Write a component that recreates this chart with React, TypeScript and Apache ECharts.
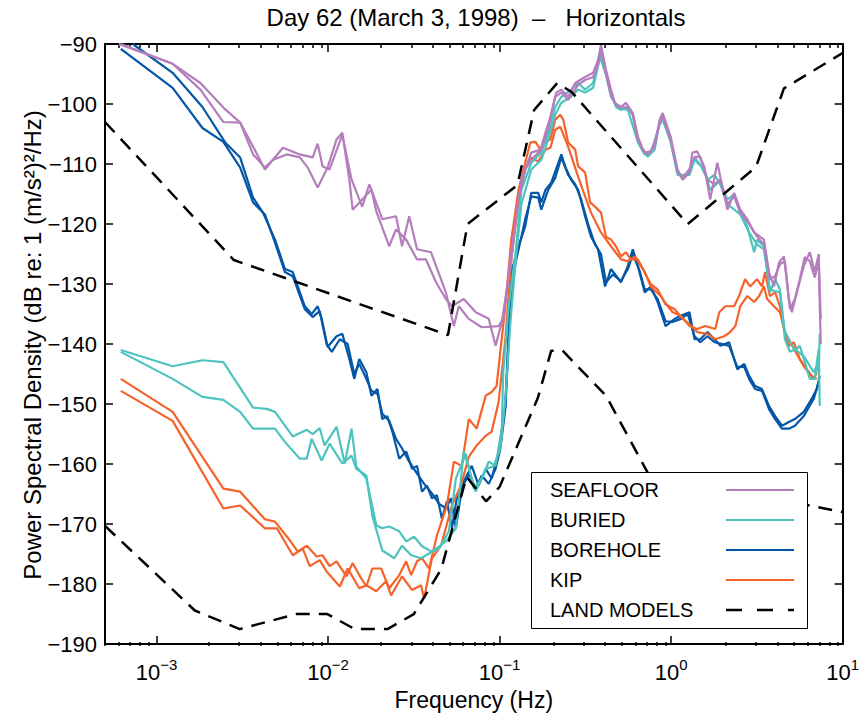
import React, { useEffect, useRef } from "react";
import * as echarts from "echarts";

// [frequency (Hz), PSD (dB)]
const seafloorA: [number, number][] = [
  [6.02e-4, -90], [1.24e-3, -93.3], [1.8e-3, -96.5], [2.45e-3, -100.6], [3.07e-3, -103.1], [3.65e-3, -107.1],
  [4.28e-3, -110.9], [5.45e-3, -107.3], [6.84e-3, -108.4], [8.13e-3, -108.9], [8.69e-3, -106.6], [9.29e-3, -110.4],
  [0.0102, -110.9], [0.0121, -105.1], [0.0137, -112.6], [0.0158, -117.1], [0.0174, -113.4], [0.0207, -119.2],
  [0.0249, -118.7], [0.027, -123.7], [0.0297, -118.7], [0.033, -124.2], [0.0398, -124.7], [0.0486, -131.4],
  [0.0541, -137], [0.0578, -133.7], [0.0661, -135.8], [0.0787, -137.2], [0.0987, -137], [0.105, -135.8],
  [0.117, -124.7], [0.134, -112.6], [0.153, -108.1], [0.173, -107.6], [0.185, -104.8], [0.198, -102.1],
  [0.214, -98.1], [0.229, -97.6], [0.251, -98.8], [0.276, -96.5], [0.315, -95.5], [0.351, -94.8], [0.375, -92.7],
  [0.39, -90.2], [0.417, -94.3], [0.446, -97.6], [0.47, -99.8], [0.51, -100.5], [0.545, -99.8], [0.598, -101.5],
  [0.64, -105.4], [0.684, -107.6], [0.731, -108.4], [0.802, -107.1], [0.858, -102.6], [0.893, -101.5],
  [0.993, -105.4], [1.09, -110.9], [1.17, -112.6], [1.28, -111.4], [1.33, -108.1], [1.42, -107.9], [1.56, -110.4],
  [1.69, -115.9], [1.86, -109.8], [1.99, -113.8], [2.13, -117.6], [2.33, -114.8], [2.53, -117.6], [2.78, -119.2],
  [3.05, -121.4], [3.48, -122.6], [3.72, -128], [3.98, -130.4], [4.26, -126.4], [4.55, -125.4], [4.86, -132.5],
  [5.06, -134.7], [5.41, -131.4], [5.94, -127], [6.44, -124.7], [6.88, -128], [7.26, -125], [7.36, -133.7],
  [7.46, -140],
];
const seafloorB: [number, number][] = [
  [6.18e-4, -90], [1.24e-3, -93.3], [1.8e-3, -97.6], [2.45e-3, -103], [3.07e-3, -103.1], [3.65e-3, -108.4],
  [4.28e-3, -110.6], [4.77e-3, -109.3], [5.75e-3, -108.4], [6.84e-3, -108.9], [7.61e-3, -110.6], [8.69e-3, -113.9],
  [9.93e-3, -110.6], [0.0112, -105.9], [0.0121, -104.8], [0.0133, -112.6], [0.0139, -117.6], [0.0158, -115.9],
  [0.0179, -114.3], [0.0191, -117.9], [0.0227, -123.7], [0.0249, -120.9], [0.0285, -122.6], [0.033, -125.9],
  [0.0372, -125.9], [0.0426, -129.7], [0.0486, -132.5], [0.0527, -133.7], [0.0618, -132.5], [0.0726, -134.7],
  [0.0864, -135.8], [0.0948, -140.3], [0.103, -136.3], [0.108, -132.5], [0.117, -125.9], [0.129, -115.9],
  [0.141, -110.9], [0.153, -109.3], [0.175, -107.6], [0.192, -104], [0.211, -98.8], [0.229, -98.1],
  [0.251, -99.3], [0.287, -96.8], [0.315, -96], [0.351, -95.5], [0.375, -93.5], [0.39, -90.5], [0.417, -95.1],
  [0.446, -98.5], [0.477, -100.1], [0.51, -100.6], [0.56, -100.5], [0.598, -101.8], [0.64, -105.9],
  [0.702, -108.1], [0.761, -107.9], [0.802, -106.4], [0.858, -103.1], [0.893, -102.1], [0.993, -105.9],
  [1.09, -111.3], [1.17, -112.3], [1.28, -110.8], [1.37, -108.8], [1.48, -108.8], [1.63, -112.6], [1.79, -113.4],
  [1.94, -112.6], [2.13, -116.7], [2.33, -115.4], [2.53, -118.1], [2.85, -120], [3.17, -122.1], [3.48, -123.4],
  [3.77, -129.2], [4.04, -128.7], [4.31, -126.7], [4.61, -126.2], [4.93, -134.2], [5.27, -132.5], [5.63, -129.2],
  [6.02, -125.5], [6.44, -126.2], [6.88, -128.9], [7.26, -126.2], [7.46, -135.8],
];
const buriedA: [number, number][] = [
  [6.18e-4, -141], [1.24e-3, -143.7], [1.85e-3, -142.7], [2.45e-3, -143], [3.65e-3, -150.6], [4.4e-3, -150.8],
  [4.9e-3, -151.3], [6.22e-3, -155.4], [7.51e-3, -154.3], [8.13e-3, -155], [8.93e-3, -154], [9.54e-3, -156.9],
  [0.0112, -153.8], [0.0125, -159.9], [0.0137, -154.1], [0.0146, -160.4], [0.0167, -162.4], [0.0191, -170.2],
  [0.0207, -170.7], [0.0227, -170.4], [0.026, -171.2], [0.0285, -172.9], [0.0317, -172.1], [0.0353, -173.7],
  [0.0403, -174.6], [0.0443, -174.1], [0.0506, -171.2], [0.0556, -162.4], [0.0635, -158.3], [0.0707, -164.1],
  [0.0787, -162.4], [0.0864, -159.6], [0.0948, -160.3], [0.103, -154.1], [0.105, -144.7], [0.113, -133.7],
  [0.124, -124.7], [0.134, -114.3], [0.153, -109.8], [0.175, -108.1], [0.192, -104.8], [0.211, -100.5],
  [0.229, -98.8], [0.261, -97.6], [0.287, -96.5], [0.315, -97.6], [0.351, -96.5], [0.385, -91.5], [0.417, -94.7],
  [0.446, -98.1], [0.477, -100.5], [0.51, -101], [0.56, -100.6], [0.598, -101.8], [0.64, -105.9], [0.684, -107.9],
  [0.731, -108.8], [0.802, -107.6], [0.858, -103], [0.893, -101.8], [0.993, -105.9], [1.09, -111.3],
  [1.17, -112.6], [1.28, -111.3], [1.37, -108.9], [1.48, -110.1], [1.63, -112.6], [1.79, -111.8], [1.94, -113.4],
  [2.13, -115.9], [2.33, -115.1], [2.53, -118.1], [2.78, -120.4], [3.05, -124.7], [3.17, -122.6], [3.48, -123.7],
  [3.77, -131.4], [4.04, -129.2], [4.31, -130.9], [4.61, -139.2], [4.93, -141.3], [5.41, -140.8], [5.63, -140.3],
  [6.02, -143], [6.44, -145.8], [6.88, -145.8], [7.26, -140.8], [7.36, -150.3],
];
const buriedB: [number, number][] = [
  [6.18e-4, -141.3], [1.24e-3, -145.8], [1.85e-3, -148.8], [2.45e-3, -149.3], [3.07e-3, -151.3], [3.65e-3, -154.1],
  [4.9e-3, -154.1], [5.6e-3, -156.3], [6.84e-3, -159.1], [7.51e-3, -159.1], [8.02e-3, -155.8], [9.17e-3, -159.4],
  [0.0102, -156.6], [0.0121, -159.9], [0.0137, -158.6], [0.0146, -160.8], [0.0167, -161.9], [0.0181, -168.6],
  [0.0207, -174.4], [0.0243, -175.7], [0.027, -173.6], [0.0305, -175.2], [0.0348, -175.7], [0.0388, -174.9],
  [0.0426, -174.1], [0.0486, -172.9], [0.0556, -170.7], [0.0618, -157.9], [0.0726, -164.6], [0.083, -160.8],
  [0.0923, -160.4], [0.101, -157.4], [0.108, -149.1], [0.116, -135.8], [0.124, -126.2], [0.134, -116.7],
  [0.153, -110.9], [0.175, -109.3], [0.192, -105.9], [0.211, -101.8], [0.229, -99.8], [0.261, -98.8],
  [0.287, -97.6], [0.315, -98.1], [0.351, -97.3], [0.385, -92.2], [0.417, -95.1], [0.446, -98.8], [0.49, -100.6],
  [0.56, -101], [0.64, -106.4], [0.702, -108.4], [0.761, -108.1], [0.858, -103.5], [0.893, -102.6],
  [0.993, -106.3], [1.09, -111.8], [1.28, -111.8], [1.37, -109.3], [1.56, -110.9], [1.69, -114.3], [1.91, -112.9],
  [2.13, -116.7], [2.53, -118.4], [2.85, -121.4], [3.17, -123.4], [3.48, -124.2], [3.77, -130.9], [4.31, -131.4],
  [4.61, -138], [5.2, -140.8], [5.94, -142], [6.79, -144.7], [7.07, -143.7], [7.26, -144.7], [7.36, -138.3],
];
const boreholeA: [number, number][] = [
  [7.26e-4, -90], [1.24e-3, -94.8], [1.85e-3, -100.5], [2.51e-3, -106.4], [3.07e-3, -108.9], [3.65e-3, -115.6],
  [4.17e-3, -118.1], [4.9e-3, -122.6], [5.6e-3, -127.5], [6.22e-3, -128], [7.31e-3, -133.7], [8.02e-3, -135],
  [8.69e-3, -133.7], [9.17e-3, -135.8], [9.93e-3, -140.5], [0.0112, -138.7], [0.0121, -138.3], [0.0133, -142.5],
  [0.0142, -145.8], [0.0152, -142.5], [0.0167, -144.7], [0.0179, -148.6], [0.0194, -147.5], [0.0207, -152.5],
  [0.0221, -152], [0.0237, -154.6], [0.026, -159.1], [0.0285, -157.9], [0.0309, -160.8], [0.033, -160.3],
  [0.0353, -164.6], [0.0377, -163.6], [0.0403, -165.7], [0.0431, -165.2], [0.0461, -169.1], [0.0493, -166.2],
  [0.0527, -170.7], [0.0563, -165.7], [0.0618, -162.9], [0.0688, -160.3], [0.0755, -163.6], [0.083, -160.8],
  [0.0899, -162.4], [0.0987, -157.9], [0.108, -150.3], [0.117, -128], [0.129, -123.7], [0.141, -120.4],
  [0.153, -114.8], [0.168, -114.8], [0.175, -116.4], [0.185, -114.3], [0.2, -113.1], [0.22, -109.8],
  [0.229, -108.4], [0.241, -110.4], [0.261, -112.6], [0.287, -114.3], [0.315, -118.7], [0.341, -122.1],
  [0.375, -124.2], [0.412, -130.4], [0.446, -127.5], [0.51, -129.7], [0.56, -127], [0.598, -124.2], [0.64, -127],
  [0.702, -131.4], [0.761, -130.4], [0.835, -133], [0.929, -137], [1.05, -135.8], [1.14, -135.3], [1.28, -134.7],
  [1.37, -139.2], [1.48, -139.2], [1.63, -138], [1.79, -139.2], [1.94, -140.3], [2.18, -139.7], [2.43, -144.2],
  [2.67, -143.3], [2.85, -145.3], [3.09, -147], [3.39, -147.5], [3.72, -150.3], [4.04, -152], [4.43, -153.6],
  [4.86, -153], [5.27, -152.5], [5.94, -151.3], [6.61, -149.1], [7.07, -147.5], [7.36, -145.3],
];
const boreholeB: [number, number][] = [
  [6.18e-4, -90.8], [1.24e-3, -97.3], [1.85e-3, -104], [2.45e-3, -106.3], [3.07e-3, -110.6], [3.65e-3, -116.4],
  [4.28e-3, -118.4], [4.9e-3, -123.1], [5.6e-3, -128], [6.22e-3, -128.7], [7.31e-3, -134.2], [8.13e-3, -135.5],
  [8.93e-3, -134.5], [9.8e-3, -140], [0.0105, -141.3], [0.0117, -139.2], [0.013, -140], [0.0142, -145],
  [0.0152, -143.3], [0.0167, -145.8], [0.0179, -147.8], [0.0194, -148.3], [0.0207, -151.6], [0.0227, -152.8],
  [0.0249, -155.8], [0.027, -157.4], [0.0297, -159.6], [0.033, -161.6], [0.0363, -163.3], [0.0403, -164.9],
  [0.0443, -166.6], [0.0486, -167.4], [0.052, -165.7], [0.0556, -170.7], [0.0602, -164.1], [0.0661, -161.6],
  [0.0726, -164.1], [0.0787, -161.9], [0.0864, -163.3], [0.0948, -160.8], [0.101, -157.4], [0.108, -150.8],
  [0.116, -132.5], [0.124, -126.4], [0.134, -122.1], [0.141, -119.2], [0.153, -115.4], [0.168, -115.6],
  [0.175, -117.6], [0.192, -114.3], [0.211, -112.3], [0.229, -108.9], [0.251, -111.8], [0.276, -113.4],
  [0.299, -115.9], [0.328, -120], [0.36, -123.4], [0.39, -125], [0.417, -129.7], [0.458, -128.4], [0.51, -129.5],
  [0.56, -127.5], [0.598, -125], [0.657, -127.9], [0.702, -130.9], [0.761, -130.9], [0.835, -132.5],
  [0.929, -136.2], [1.02, -136.3], [1.14, -135.8], [1.25, -135], [1.37, -138.7], [1.48, -139.7], [1.63, -138.7],
  [1.79, -139.7], [1.99, -140], [2.18, -140.3], [2.43, -143.8], [2.67, -143.8], [2.85, -145.8], [3.09, -147.5],
  [3.39, -147.8], [3.72, -150.8], [4.04, -152.5], [4.43, -154.1], [4.86, -154.1], [5.27, -153.6], [5.94, -152],
  [6.79, -149.1], [7.26, -146.3],
];
const kipA: [number, number][] = [
  [6.18e-4, -145.8], [1.24e-3, -151.3], [2.45e-3, -164.1], [3.07e-3, -164.6], [4.28e-3, -169.2], [4.9e-3, -169.6],
  [5.98e-3, -172.7], [6.66e-3, -174.6], [7.51e-3, -173.6], [8.58e-3, -175.4], [9.29e-3, -175.2], [0.0102, -177],
  [0.0112, -176.2], [0.0128, -178.7], [0.0139, -176.5], [0.0152, -178.5], [0.0167, -180.4], [0.0181, -177.4],
  [0.0204, -177.4], [0.0227, -180.7], [0.026, -178.5], [0.0285, -176.2], [0.0305, -178.5], [0.033, -176.2],
  [0.0353, -175.7], [0.0388, -177.4], [0.0431, -171.9], [0.0493, -166.9], [0.0541, -159.6], [0.0602, -160.3],
  [0.0661, -152.5], [0.0735, -154.1], [0.083, -148.6], [0.0899, -148], [0.096, -147], [0.108, -133.7],
  [0.117, -122.6], [0.129, -114.3], [0.141, -109.8], [0.151, -106.4], [0.162, -106.3], [0.173, -107.6],
  [0.185, -106.3], [0.198, -105.9], [0.211, -102.6], [0.226, -101.8], [0.235, -102.6], [0.251, -106.4],
  [0.276, -107.6], [0.287, -110.4], [0.315, -111.4], [0.337, -116.4], [0.36, -117.1], [0.39, -118.1],
  [0.417, -122.1], [0.446, -122.6], [0.477, -123.7], [0.51, -125.4], [0.545, -124.7], [0.582, -125.9],
  [0.64, -125.9], [0.702, -128], [0.761, -130.4], [0.869, -132], [0.917, -133], [1.02, -134.7], [1.14, -135.3],
  [1.28, -137], [1.42, -137.5], [1.58, -137], [1.81, -137.5], [1.91, -134.7], [2.07, -133.7], [2.33, -133.7],
  [2.49, -132], [2.7, -129.2], [2.89, -130.4], [3.17, -129.2], [3.39, -130.4], [3.53, -128], [3.77, -132],
  [4.04, -131.4], [4.31, -133.7], [4.55, -137.5], [4.86, -140.3], [5.2, -139.7], [5.63, -142.5], [6.18, -144.2],
  [6.61, -145.3], [7.07, -145.8],
];
const kipB: [number, number][] = [
  [6.18e-4, -147.8], [1.24e-3, -152.8], [2.45e-3, -167.4], [3.07e-3, -166.9], [4.28e-3, -170.7], [5.03e-3, -170.7],
  [6.22e-3, -175.2], [7.12e-3, -174.1], [7.81e-3, -177], [8.93e-3, -176], [9.8e-3, -177.9], [0.0117, -180.4],
  [0.013, -177.4], [0.0152, -180.7], [0.0167, -180.2], [0.0191, -181.2], [0.0218, -179.5], [0.0233, -181.9],
  [0.027, -178.7], [0.0309, -181], [0.0348, -180.2], [0.0363, -182.4], [0.0403, -175.7], [0.0455, -173.6],
  [0.0527, -166.9], [0.0594, -163.6], [0.0661, -158.8], [0.0735, -156.9], [0.083, -155.3], [0.0899, -154.6],
  [0.0987, -149.6], [0.108, -139.2], [0.117, -125.9], [0.129, -115.9], [0.141, -110.9], [0.153, -108.9],
  [0.168, -109.6], [0.185, -107.6], [0.198, -107.3], [0.211, -104.3], [0.226, -103.8], [0.251, -107.1],
  [0.287, -112.1], [0.315, -115.4], [0.341, -118.1], [0.39, -121.4], [0.446, -123.7], [0.51, -125.9],
  [0.56, -126.2], [0.614, -125.4], [0.684, -127.5], [0.761, -130], [0.835, -130.9], [0.929, -133.4],
  [1.05, -134.2], [1.17, -135.8], [1.28, -136.7], [1.42, -138], [1.63, -138.3], [1.81, -139.2], [2.04, -138.7],
  [2.21, -138], [2.37, -137], [2.53, -133.7], [2.78, -132], [3.05, -133], [3.26, -132], [3.48, -130.4],
  [3.63, -132.5], [3.98, -133.7], [4.31, -134.7], [4.61, -138], [5.2, -140.8], [5.94, -143.7], [6.79, -145.8],
  [7.07, -144.7],
];
// Peterson (1993) land noise models
const highNoiseModel: [number, number][] = [
  [5e-4, -103], [2.82e-3, -126], [0.05, -138.5], [0.065, -120], [0.127, -113.5], [0.159, -101], [0.217, -96.5],
  [0.263, -98], [1.25, -120], [3.125, -110.5], [4.55, -97.4], [10, -91.5],
];
const lowNoiseModel: [number, number][] = [
  [5e-4, -170.3], [1.67e-3, -184.4], [3.05e-3, -187.5], [6.5e-3, -185], [9.9e-3, -185], [0.0143, -187.5],
  [0.0222, -187.5], [0.0316, -185], [0.0457, -177.5], [0.0641, -162.1], [0.0833, -166.2], [0.1, -163.8],
  [0.167, -149], [0.2, -141.1], [0.233, -141.1], [0.417, -148.6], [0.806, -163.7], [1.25, -169.2], [2.5, -166.7],
  [5.88, -166.7], [10, -168],
];

const legendNames = ["SEAFLOOR", "BURIED", "BOREHOLE", "KIP", "LAND MODELS"];
const decadeTicks = [1e-3, 1e-2, 1e-1, 1, 10];
const minorMultipliers = [2, 3, 4, 5, 6, 7, 8, 9];
const titleText = "Day 62 (March 3, 1998)  –   Horizontals";
const xTitle = "Frequency (Hz)";
const yTitle = "Power Spectral Density (dB re: 1 (m/s²)²/Hz)";

const COLORS = {
  seafloor: "#b47dbc",
  buried: "#4dc3bd",
  borehole: "#0456a6",
  kip: "#f5622a",
  land: "#000000",
};
const FONT = "'Liberation Sans', Arial, Helvetica, sans-serif";

export default function App() {
  const ref = useRef<HTMLDivElement>(null);
  useEffect(() => {
    if (!ref.current) return;
    const chart = echarts.init(ref.current, undefined, { renderer: "svg" });
    const minorTicks: number[] = [];
    [1e-4, 1e-3, 1e-2, 1e-1, 1].forEach((d) =>
      minorMultipliers.forEach((m) => {
        const v = d * m;
        if (v >= 5e-4 && v <= 10) minorTicks.push(v);
      })
    );
    const axisLineStyle = { color: "#000", width: 2 };
    const tickStyle = { color: "#000", width: 1.5 };
    const grid = { left: 105, right: 16, top: 44, bottom: 70 };

    const majorX = (position: string, showLabel: boolean, extra: any = {}) => ({
      type: "log",
      logBase: 10,
      min: 5e-4,
      max: 10,
      gridIndex: 0,
      position,
      axisLine: { show: true, lineStyle: axisLineStyle },
      axisTick: { show: true, inside: true, length: 8, lineStyle: tickStyle, customValues: decadeTicks },
      axisLabel: showLabel
        ? {
            show: true,
            customValues: decadeTicks,
            margin: 13,
            formatter: (v: number) => {
              const e = Math.round(Math.log10(v));
              return `{b|10}{s|${e < 0 ? "−" : ""}${Math.abs(e)}}`;
            },
            rich: {
              b: { fontSize: 22, fontFamily: FONT, color: "#000" },
              s: { fontSize: 15, fontFamily: FONT, color: "#000", padding: [0, 0, 15, 0] },
            },
          }
        : { show: false },
      splitLine: { show: false },
      ...extra,
    });
    const minorX = (position: string) => ({
      type: "log",
      logBase: 10,
      min: 5e-4,
      max: 10,
      gridIndex: 1,
      position,
      axisLine: { show: false },
      axisTick: { show: true, inside: true, length: 4, lineStyle: tickStyle, customValues: minorTicks },
      axisLabel: { show: false },
      splitLine: { show: false },
    });
    const yAx = (position: string, showLabel: boolean, gridIndex: number) => ({
      type: "value",
      min: -190,
      max: -90,
      interval: 10,
      gridIndex,
      position,
      show: gridIndex === 0,
      axisLine: { show: true, lineStyle: axisLineStyle },
      axisTick: { show: true, inside: true, length: 8, lineStyle: tickStyle },
      axisLabel: showLabel
        ? {
            show: true,
            margin: 8,
            fontSize: 22,
            fontFamily: FONT,
            color: "#000",
            formatter: (v: number) => String(v).replace("-", "−"),
          }
        : { show: false },
      splitLine: { show: false },
    });

    const line = (name: string, data: [number, number][], color: string, dashed = false) => ({
      type: "line",
      name,
      data,
      xAxisIndex: 0,
      yAxisIndex: 0,
      showSymbol: false,
      symbol: "none",
      silent: true,
      lineStyle: dashed ? { color, width: 2.5, type: [14, 9] } : { color, width: 2.2 },
      itemStyle: { color },
    });

    const legendColors = [COLORS.seafloor, COLORS.buried, COLORS.borehole, COLORS.kip, COLORS.land];
    const legendEls: any[] = [
      {
        type: "rect",
        shape: { x: 531.5, y: 472.5, width: 276, height: 156 },
        style: { fill: "#fff", stroke: "#000", lineWidth: 1 },
        z: 100,
      },
    ];
    legendNames.forEach((n, i) => {
      const y = 490 + i * 30;
      legendEls.push({
        type: "text",
        x: 550,
        y,
        z: 101,
        style: { text: n, font: `20px ${FONT}`, fill: "#000", align: "left", verticalAlign: "middle" },
      });
      legendEls.push({
        type: "line",
        z: 101,
        shape: { x1: 726, y1: y, x2: 794, y2: y },
        style: {
          stroke: legendColors[i],
          lineWidth: i === 4 ? 2.5 : 2.2,
          lineDash: i === 4 ? [16, 15] : null,
        },
      });
    });

    chart.setOption({
      animation: false,
      backgroundColor: "#fff",
      grid: [grid, grid],
      xAxis: [
        majorX("bottom", true, {
          name: xTitle,
          nameLocation: "middle",
          nameGap: 39,
          nameTextStyle: { fontSize: 23, fontFamily: FONT, color: "#000" },
        }),
        majorX("top", false),
        minorX("bottom"),
        minorX("top"),
      ],
      yAxis: [yAx("left", true, 0), yAx("right", false, 0), yAx("left", false, 1)],
      series: [
        line("BOREHOLE", boreholeA, COLORS.borehole),
        line("BOREHOLE", boreholeB, COLORS.borehole),
        line("KIP", kipA, COLORS.kip),
        line("KIP", kipB, COLORS.kip),
        line("BURIED", buriedA, COLORS.buried),
        line("BURIED", buriedB, COLORS.buried),
        line("SEAFLOOR", seafloorA, COLORS.seafloor),
        line("SEAFLOOR", seafloorB, COLORS.seafloor),
        line("LAND MODELS", highNoiseModel, COLORS.land, true),
        line("LAND MODELS", lowNoiseModel, COLORS.land, true),
      ],
      graphic: [
        {
          type: "text",
          x: 476,
          y: 17,
          style: {
            text: titleText,
            font: `24px ${FONT}`,
            fill: "#000",
            align: "center",
            verticalAlign: "middle",
          },
        },
        {
          type: "text",
          x: 32,
          y: 345,
          rotation: Math.PI / 2,
          style: {
            text: yTitle,
            font: `24px ${FONT}`,
            fill: "#000",
            align: "center",
            verticalAlign: "middle",
          },
        },
        ...legendEls,
      ],
    });
    return () => chart.dispose();
  }, []);
  return (
    <div
      ref={ref}
      style={{ position: "absolute", left: 0, top: 0, width: 862, height: 716, background: "#fff" }}
    />
  );
}
